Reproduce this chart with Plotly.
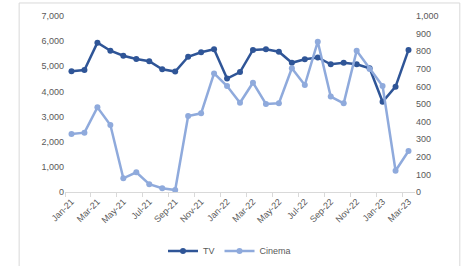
import plotly.graph_objects as go

months = ["Jan-21","Feb-21","Mar-21","Apr-21","May-21","Jun-21","Jul-21","Aug-21","Sep-21",
          "Oct-21","Nov-21","Dec-21","Jan-22","Feb-22","Mar-22","Apr-22","May-22","Jun-22",
          "Jul-22","Aug-22","Sep-22","Oct-22","Nov-22","Dec-22","Jan-23","Feb-23","Mar-23"]
tv = [4800, 4850, 5940, 5620, 5420, 5290, 5200, 4880, 4790, 5380, 5560, 5680, 4510, 4770,
      5650, 5680, 5580, 5140, 5280, 5350, 5080, 5140, 5080, 4920, 3590, 4190, 5650]
cinema = [330, 337, 481, 381, 78, 112, 44, 21, 11, 432, 447, 674, 602, 507, 621, 500, 504,
          703, 608, 854, 542, 504, 803, 699, 602, 121, 233]

TV_COLOR = "#2F5597"
CIN_COLOR = "#8FAADC"
GRAY = "#595959"
FONT = "Liberation Sans"

fig = go.Figure()
fig.add_trace(go.Scatter(x=months, y=tv, name="TV", mode="lines+markers",
                         line=dict(color=TV_COLOR, width=2.5),
                         marker=dict(color=TV_COLOR, size=6), yaxis="y"))
fig.add_trace(go.Scatter(x=months, y=cinema, name="Cinema", mode="lines+markers",
                         line=dict(color=CIN_COLOR, width=2.5),
                         marker=dict(color=CIN_COLOR, size=6), yaxis="y2"))

fig.update_layout(
    width=462, height=266,
    margin=dict(l=65, r=47, t=16, b=74, autoexpand=False),
    paper_bgcolor="white", plot_bgcolor="white",
    font=dict(family=FONT, size=9, color=GRAY),
    showlegend=True,
    legend=dict(orientation="h", x=0.47, xanchor="center", y=-0.335, yanchor="middle",
                font=dict(size=9, color=GRAY), itemwidth=30),
    xaxis=dict(type="category", range=[-0.5, 26.5], dtick=2, tickson="boundaries",
               tickangle=-45, showgrid=False, showline=True, linecolor="#D9D9D9",
               ticks="outside", ticklen=4, tickcolor="#D9D9D9", automargin=False,
               tickfont=dict(size=9, color=GRAY), zeroline=False),
    yaxis=dict(range=[0, 7000], dtick=1000, tickformat=",", showgrid=False, automargin=False,
               showline=False, zeroline=False, ticks="", tickfont=dict(size=9, color=GRAY)),
    yaxis2=dict(range=[0, 1000], dtick=100, tickformat=",", overlaying="y", side="right",
                showgrid=False, showline=False, zeroline=False, ticks="", automargin=False,
                tickfont=dict(size=9, color=GRAY)),
    shapes=[dict(type="rect", xref="paper", yref="paper", x0=-0.131, x1=1.128,
                 y0=-0.45, y1=1.074, line=dict(color="#D9D9D9", width=1),
                 fillcolor="rgba(0,0,0,0)", layer="below")],
)

fig.write_html("out.html", config={"displayModeBar": False})

with open("out.html", "r", encoding="utf-8") as f:
    html = f.read()
html = html.replace("<head>", "<head><style>html,body{margin:0;padding:0;overflow:hidden;}</style>", 1)
with open("out.html", "w", encoding="utf-8") as f:
    f.write(html)
